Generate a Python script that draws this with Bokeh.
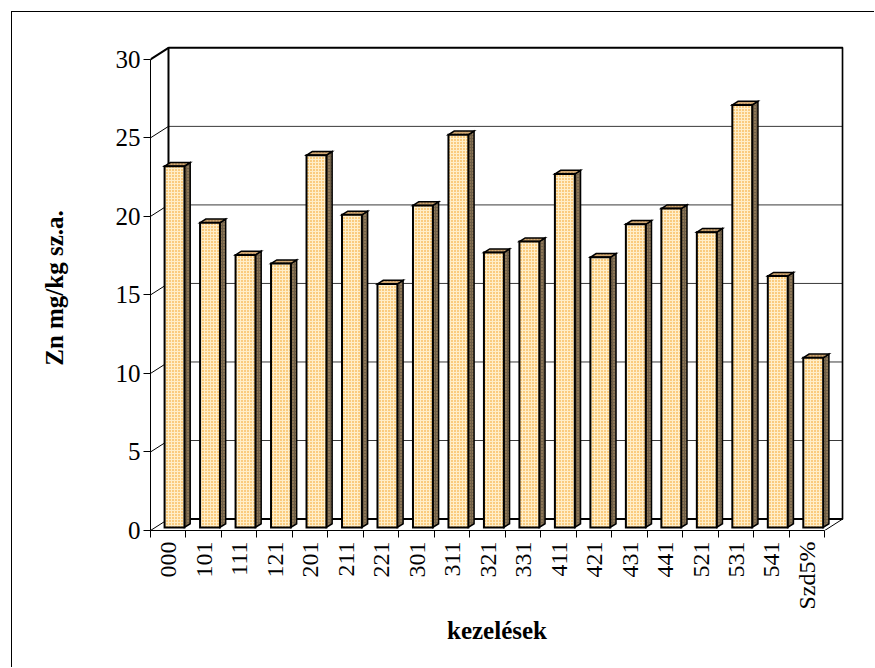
import math

from bokeh.embed import file_html
from bokeh.models import ColumnDataSource, FixedTicker, Range1d
from bokeh.plotting import figure
from bokeh.resources import INLINE

# Zn content per treatment (mg/kg dry matter) and the LSD 5% bar
categories = ["000", "101", "111", "121", "201", "211", "221", "301", "311", "321",
              "331", "411", "421", "431", "441", "521", "531", "541", "Szd5%"]
zn_values = [23.0, 19.4, 17.35, 16.8, 23.7, 19.9, 15.5, 20.5, 25.0, 17.5,
             18.2, 22.5, 17.2, 19.3, 20.3, 18.8, 26.9, 16.0, 10.8]
y_ticks = [0, 5, 10, 15, 20, 25, 30]

n = len(categories)
y_top = y_ticks[-1]

# pseudo-3D geometry (in category / value units)
DX, DY = 0.507, 0.73      # depth of the walls
F0, F1 = 0.27, 0.59       # bar depth, as fraction of the wall depth
BL, BR = 0.26, 0.82       # bar face span inside a category slot

FONT = "Liberation Serif"

p = figure(width=863, height=656, output_backend="svg", toolbar_location=None,
           x_range=Range1d(0, 19.53), y_range=Range1d(0, 30.88),
           min_border_left=138, min_border_right=32, min_border_top=33,
           min_border_bottom=138)
# chart area border: top and left edges drawn as a shadow outside the canvas
p.styles = {"position": "absolute", "left": "12px", "top": "12px",
            "box-shadow": "-1px -1px 0 0 black"}
p.xgrid.visible = False
p.ygrid.visible = False
p.outline_line_color = None
p.background_fill_color = "white"
p.border_fill_color = "white"

# ---- walls ----
grid_vals = [v for v in y_ticks if 0 < v < y_top]
p.segment(x0=[DX] * len(grid_vals), y0=[v + DY for v in grid_vals],
          x1=[n + DX] * len(grid_vals), y1=[v + DY for v in grid_vals],
          line_color="#3a3a3a", line_width=1)
# side wall diagonals at each tick
p.segment(x0=[0] * len(y_ticks), y0=y_ticks, x1=[DX] * len(y_ticks),
          y1=[v + DY for v in y_ticks], line_color="black", line_width=1)
# floor right diagonal
p.segment(x0=[n], y0=[0], x1=[n + DX], y1=[DY], line_color="black", line_width=1)
# back wall frame
p.line(x=[DX, DX, n + DX, n + DX, DX], y=[DY, y_top + DY, y_top + DY, DY, DY],
       line_color="black", line_width=2)
p.segment(x0=[0], y0=[y_top], x1=[DX], y1=[y_top + DY], line_color="black", line_width=2)

# ---- bars ----
ox, oy = F0 * DX, F0 * DY
bdx, bdy = (F1 - F0) * DX, (F1 - F0) * DY
left = [k + ox + BL for k in range(n)]
right = [k + ox + BR for k in range(n)]
top = [v + oy for v in zn_values]
bottom = [oy] * n

front = ColumnDataSource(dict(left=left, right=right, top=top, bottom=bottom))
side = ColumnDataSource(dict(
    xs=[[r, r + bdx, r + bdx, r] for r in right],
    ys=[[oy, oy + bdy, t + bdy, t] for t in top]))
lid = ColumnDataSource(dict(
    xs=[[l, r, r + bdx, l + bdx] for l, r in zip(left, right)],
    ys=[[t, t, t + bdy, t + bdy] for t in top]))

p.patches("xs", "ys", source=side, fill_color="#6f5f48", hatch_pattern="dot",
          hatch_color="#b89a6c", hatch_scale=3, hatch_weight=1.4,
          line_color="black", line_width=1.5, line_join="miter")
p.patches("xs", "ys", source=lid, fill_color="#d2a872", hatch_pattern="dot",
          hatch_color="#8a6840", hatch_scale=3, hatch_weight=1.4,
          line_color="black", line_width=1.5, line_join="miter")
p.quad(left="left", right="right", top="top", bottom="bottom", source=front,
       fill_color="#ffeec8", hatch_pattern="dot", hatch_color="#f3960f",
       hatch_scale=3, hatch_weight=2.0,
       line_color="black", line_width=2, line_join="miter")

# ---- axes ----
xa = p.xaxis[0]
xa.ticker = FixedTicker(ticks=[k + 0.5 for k in range(n)], minor_ticks=list(range(n + 1)))
xa.major_label_overrides = {k + 0.5: c for k, c in enumerate(categories)}
xa.bounds = (0, n)
xa.major_tick_line_color = None
xa.major_tick_out = 7
xa.major_tick_in = 0
xa.minor_tick_line_color = "black"
xa.minor_tick_out = 7
xa.minor_tick_in = 0
xa.major_label_orientation = math.pi / 2
xa.major_label_standoff = 4
xa.major_label_text_font = FONT
xa.major_label_text_font_size = "24px"
xa.major_label_text_color = "black"
xa.axis_line_color = "black"
xa.axis_line_width = 1
xa.axis_label = "kezelések"
xa.axis_label_standoff = 5
xa.axis_label_text_font = FONT
xa.axis_label_text_font_size = "25px"
xa.axis_label_text_font_style = "bold"
xa.axis_label_text_color = "black"

ya = p.yaxis[0]
ya.ticker = FixedTicker(ticks=y_ticks, minor_ticks=[])
ya.bounds = (0, y_top)
ya.major_tick_out = 7
ya.major_tick_in = 0
ya.major_tick_line_color = "black"
ya.minor_tick_line_color = None
ya.major_label_standoff = 3
ya.major_label_text_font = FONT
ya.major_label_text_font_size = "25px"
ya.major_label_text_color = "black"
ya.axis_line_color = "black"
ya.axis_line_width = 1
ya.axis_label = "Zn mg/kg sz.a."
ya.axis_label_standoff = 45
ya.axis_label_text_font = FONT
ya.axis_label_text_font_size = "25px"
ya.axis_label_text_font_style = "bold"
ya.axis_label_text_color = "black"

open("out.html", "w").write(file_html(p, INLINE))
